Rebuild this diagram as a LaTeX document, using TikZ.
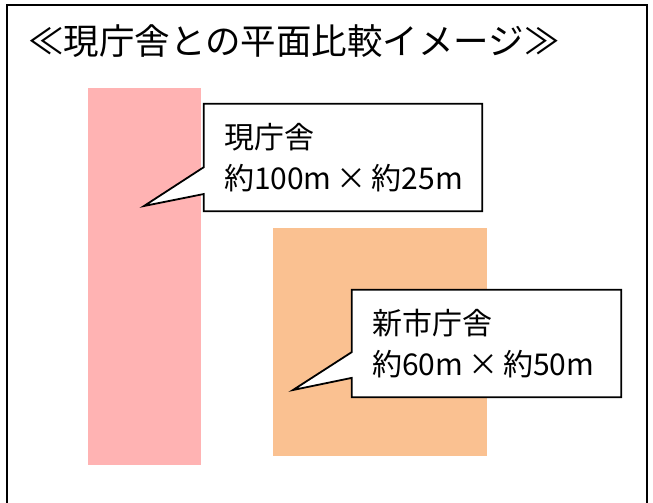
\documentclass[tikz,border=0pt]{standalone}
\usepackage{fontspec}
\setmainfont{Noto Sans CJK JP}
\usetikzlibrary{calc}
\definecolor{oldpink}{RGB}{255,179,179}
\definecolor{neworange}{RGB}{250,193,145}
\tikzset{
	callbox/.style={fill=white, minimum height=107, inner xsep=20, inner ysep=0, align=left, font=\fontsize{30}{41}\selectfont},
	callline/.style={line width=1.8pt, line join=miter},
}

\begin{document}
\begin{tikzpicture}[x=1pt, y=-1pt]
			%%%%% FRAME %%%%%
			\useasboundingbox (0,0) rectangle (653,503);
			\fill[white] (0,0) rectangle (653,503);
			\draw[line width=2.4pt] (7,5) rectangle (647,520);
			
			\node[anchor=base west, inner sep=0, font=\fontsize{35.5}{36}\selectfont] (title) at (28,55) {≪現庁舎との平面比較イメージ≫};
			
			%%%%% BUILDINGS %%%%%
			\fill[oldpink] (88,88) rectangle (201,465);
			\fill[neworange] (273,228) rectangle (487,456);
			
			%%%%% CALLOUTS %%%%%
			\node[callbox, minimum width=278, text width=238] (old) at (343,157.5) {現庁舎\\約100m\,×\,約25m};
			\coordinate (oldtip) at (144,206);
			\fill[white] ($(old.south west)!0.16!(old.north west)$) -- (oldtip) -- ($(old.south west)!0.41!(old.north west)$) -- cycle;
			\draw[callline] (old.north west) -- (old.north east) -- (old.south east) -- (old.south west) -- ($(old.south west)!0.16!(old.north west)$) -- (oldtip) -- ($(old.south west)!0.41!(old.north west)$) -- cycle;
			
			\node[callbox, minimum width=269, text width=229] (new) at (486.5,343.5) {新市庁舎\\約60m\,×\,約50m};
			\coordinate (newtip) at (293,390);
			\fill[white] ($(new.south west)!0.18!(new.north west)$) -- (newtip) -- ($(new.south west)!0.42!(new.north west)$) -- cycle;
			\draw[callline] (new.north west) -- (new.north east) -- (new.south east) -- (new.south west) -- ($(new.south west)!0.18!(new.north west)$) -- (newtip) -- ($(new.south west)!0.42!(new.north west)$) -- cycle;
			
			%%%%% END %%%%%
\end{tikzpicture}
\end{document}
